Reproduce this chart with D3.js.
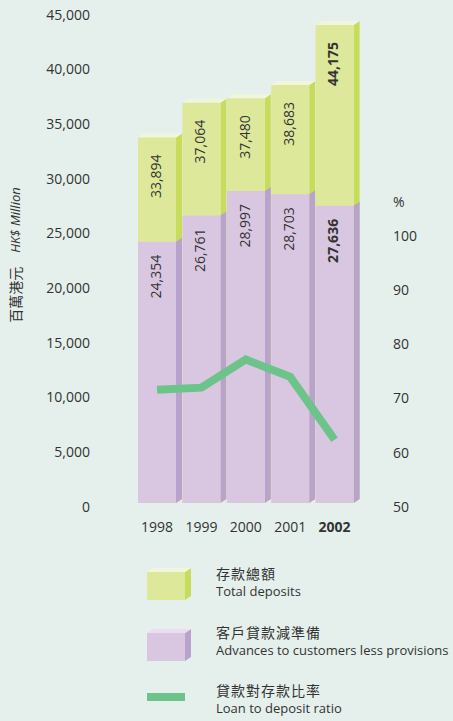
<!DOCTYPE html>
<html>
<head>
<meta charset="utf-8">
<script src="https://cdn.jsdelivr.net/npm/d3@7"></script>
<style>
  body { margin: 0; background: #e5f0ec; }
  svg { display: block; }
  text { font-family: "Open Sans", "Noto Sans CJK TC", sans-serif; fill: #333; }
</style>
</head>
<body>
<div id="chart"></div>
<script>
const years = ['1998', '1999', '2000', '2001', '2002']
const deposits = [33894, 37064, 37480, 38683, 44175]
const advances = [24354, 26761, 28997, 28703, 27636]
const ratio = [71.8, 72.2, 77.4, 74.2, 62.6]
const leftTicks = [0, 5000, 10000, 15000, 20000, 25000, 30000, 35000, 40000, 45000]
const rightTicks = [50, 60, 70, 80, 90, 100]

const width = 453
const height = 721
const depth = { x: 6, y: -4 }
const baseLift = 5

const colors = {
    greenFront: '#dde89b',
    greenSide: '#c8dc5c',
    greenTop: '#eff6dc',
    purpleFront: '#d9c7e2',
    purpleSide: '#b9a3cd',
    purpleTop: '#e9ddef',
    line: '#6cc48b'
}

const svg = d3.select('#chart')
    .append('svg')
    .attr('width', width)
    .attr('height', height)

const x = d3.scaleBand()
    .domain(years)
    .range([138, 353.6])
    .paddingInner(0.144)
    .paddingOuter(0)

const y = d3.scaleLinear()
    .domain([0, 45000])
    .range([508, 16])

const yRight = d3.scaleLinear()
    .domain([50, 100])
    .range([508, 237])

const fmt = d3.format(',')
const bw = x.bandwidth()
const base = y(0) - baseLift

// 3d bar pieces
function front(x0, top) {
    return `M${x0},${top}H${x0 + bw}V${base}H${x0}Z`
}
function side(x0, top) {
    const r = x0 + bw
    return `M${r},${top}L${r + depth.x},${top + depth.y}V${base + depth.y}L${r},${base}Z`
}
function topFace(x0, top) {
    return `M${x0},${top}L${x0 + depth.x},${top + depth.y}H${x0 + bw + depth.x}L${x0 + bw},${top}Z`
}

const bars = svg.append('g')
    .selectAll('g')
    .data(years.map((d, i) => ({ year: d, dep: deposits[i], adv: advances[i], i: i })))
    .join('g')

bars.append('path')
    .attr('d', d => side(x(d.year), y(d.dep)))
    .attr('fill', colors.greenSide)
bars.append('path')
    .attr('d', d => topFace(x(d.year), y(d.dep)))
    .attr('fill', colors.greenTop)
bars.append('path')
    .attr('d', d => front(x(d.year), y(d.dep)))
    .attr('fill', colors.greenFront)
bars.append('path')
    .attr('d', d => side(x(d.year), y(d.adv)))
    .attr('fill', colors.purpleSide)
bars.append('path')
    .attr('d', d => front(x(d.year), y(d.adv)))
    .attr('fill', colors.purpleFront)

// value labels, rotated
bars.append('text')
    .attr('transform', d => `translate(${x(d.year) + bw / 2},${y(d.dep) + 17}) rotate(-90)`)
    .attr('text-anchor', 'end')
    .attr('dominant-baseline', 'middle')
    .style('font-size', '14px')
    .style('font-weight', d => d.year === '2002' ? 'bold' : 'normal')
    .text(d => fmt(d.dep))

bars.append('text')
    .attr('transform', d => `translate(${x(d.year) + bw / 2},${y(d.adv) + 13}) rotate(-90)`)
    .attr('text-anchor', 'end')
    .attr('dominant-baseline', 'middle')
    .style('font-size', '14px')
    .style('font-weight', d => d.year === '2002' ? 'bold' : 'normal')
    .text(d => fmt(d.adv))

// ratio line
const line = d3.line()
    .x((d, i) => x(years[i]) + bw / 2)
    .y(d => yRight(d))

svg.append('path')
    .datum(ratio)
    .attr('d', line)
    .attr('fill', 'none')
    .attr('stroke', colors.line)
    .attr('stroke-width', 8)

// left axis labels
svg.append('g')
    .selectAll('text')
    .data(leftTicks)
    .join('text')
    .attr('x', 90)
    .attr('y', d => y(d))
    .attr('text-anchor', 'end')
    .attr('dominant-baseline', 'middle')
    .style('font-size', '14px')
    .text(d => fmt(d))

// right axis labels
svg.append('g')
    .selectAll('text')
    .data(rightTicks)
    .join('text')
    .attr('x', 393)
    .attr('y', d => yRight(d))
    .attr('dominant-baseline', 'middle')
    .style('font-size', '14px')
    .text(d => d)

svg.append('text')
    .attr('x', 393)
    .attr('y', 203)
    .attr('dominant-baseline', 'middle')
    .style('font-size', '14px')
    .text('%')

// year labels
svg.append('g')
    .selectAll('text')
    .data(years)
    .join('text')
    .attr('x', d => x(d) + bw / 2)
    .attr('y', 528)
    .attr('text-anchor', 'middle')
    .attr('dominant-baseline', 'middle')
    .style('font-size', '14px')
    .style('font-weight', d => d === '2002' ? 'bold' : 'normal')
    .text(d => d)

// unit label
const unit = svg.append('text')
    .attr('transform', 'translate(17,255) rotate(-90)')
    .attr('text-anchor', 'middle')
    .attr('dominant-baseline', 'middle')
    .style('font-size', '13px')
unit.append('tspan').style('font-size', '14px').text('百萬港元')
unit.append('tspan').attr('dx', 14).style('font-style', 'italic').text('HK$ Million')

// legend
const legend = svg.append('g')
const lx = 147
const lw = 38

function legendBox(top, f, s, t) {
    const h = 28
    legend.append('path')
        .attr('d', `M${lx + lw},${top}L${lx + lw + depth.x},${top + depth.y}V${top + h + depth.y}L${lx + lw},${top + h}Z`)
        .attr('fill', s)
    legend.append('path')
        .attr('d', `M${lx},${top}L${lx + depth.x},${top + depth.y}H${lx + lw + depth.x}L${lx + lw},${top}Z`)
        .attr('fill', t)
    legend.append('rect')
        .attr('x', lx).attr('y', top).attr('width', lw).attr('height', h)
        .attr('fill', f)
}
legendBox(572, colors.greenFront, colors.greenSide, colors.greenTop)
legendBox(633, colors.purpleFront, colors.purpleSide, colors.purpleTop)

legend.append('rect')
    .attr('x', lx).attr('y', 693).attr('width', lw).attr('height', 8)
    .attr('fill', colors.line)

const legendItems = [
    ['存款總額', 'Total deposits', 575],
    ['客戶貸款減準備', 'Advances to customers less provisions', 634],
    ['貸款對存款比率', 'Loan to deposit ratio', 692]
]
legendItems.forEach(d => {
    legend.append('text')
        .attr('x', 216).attr('y', d[2])
        .attr('dominant-baseline', 'middle')
        .style('font-size', '14px')
        .style('letter-spacing', '1px')
        .text(d[0])
    legend.append('text')
        .attr('x', 216).attr('y', d[2] + 18)
        .attr('dominant-baseline', 'middle')
        .style('font-size', '13px')
        .text(d[1])
})
</script>
</body>
</html>
